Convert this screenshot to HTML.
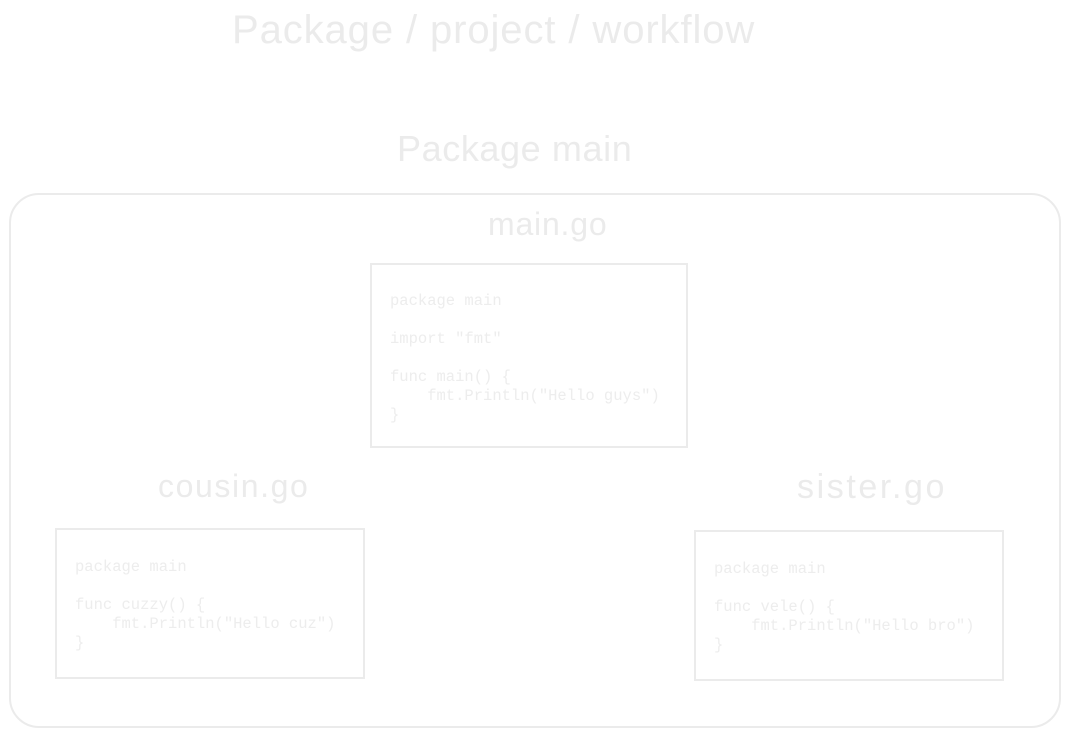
<!DOCTYPE html>
<html><head><style>
body{margin:0;width:1069px;height:737px;background:#fff;position:relative;overflow:hidden;font-family:"Liberation Sans",sans-serif}
.t{position:absolute;color:#ebebeb;white-space:nowrap}
.b{position:absolute;border:2px solid #ebebeb;box-sizing:border-box}
pre{position:absolute;margin:0;font-family:"Liberation Mono",monospace;font-size:15.5px;line-height:19px;color:#ededed}
</style></head><body>
<div class="t" style="left:232px;top:8px;font-size:40px;letter-spacing:0.9px">Package / project / workflow</div>
<div class="t" style="left:397px;top:128px;font-size:36px;letter-spacing:0.6px">Package main</div>
<div class="b" style="left:9px;top:193px;width:1052px;height:535px;border-radius:30px"></div>
<div class="t" style="left:488px;top:206px;font-size:32px;letter-spacing:0.8px">main.go</div>
<div class="b" style="left:370px;top:263px;width:318px;height:185px"></div>
<pre style="left:390px;top:292px">package main

import "fmt"

func main() {
    fmt.Println("Hello guys")
}</pre>
<div class="t" style="left:158px;top:468px;font-size:32px;letter-spacing:1.6px">cousin.go</div>
<div class="b" style="left:55px;top:528px;width:310px;height:151px"></div>
<pre style="left:75px;top:558px">package main

func cuzzy() {
    fmt.Println("Hello cuz")
}</pre>
<div class="t" style="left:797px;top:468px;font-size:34px;letter-spacing:2.6px">sister.go</div>
<div class="b" style="left:694px;top:530px;width:310px;height:151px"></div>
<pre style="left:714px;top:560px">package main

func vele() {
    fmt.Println("Hello bro")
}</pre>
</body></html>
